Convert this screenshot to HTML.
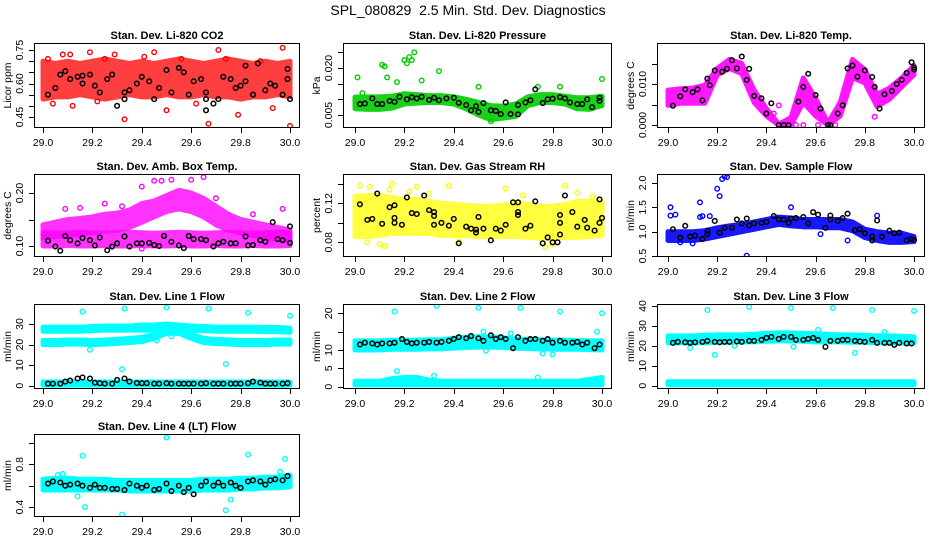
<!DOCTYPE html>
<html><head><meta charset="utf-8">
<style>
html,body{margin:0;padding:0;background:#fff;}
svg{display:block;font-family:"Liberation Sans",sans-serif;}
</style></head>
<body>
<svg id="fig" width="936" height="540" viewBox="0 0 936 540" xmlns="http://www.w3.org/2000/svg">
<rect width="936" height="540" fill="#fff"/>
<text x="468" y="15" text-anchor="middle" font-size="14" style="white-space:pre">SPL_080829  2.5 Min. Std. Dev. Diagnostics</text>
</svg>
<script>
// ---------- DATA ----------
const xTicks = [29.0, 29.2, 29.4, 29.6, 29.8, 30.0];
const xTickLabels = ["29.0", "29.2", "29.4", "29.6", "29.8", "30.0"];

// CO2
const co2Lo = [0.53,0.54,0.54,0.55,0.54,0.53,0.54,0.55,0.54,0.54,0.55,0.54,0.54,0.55,0.54,0.54,0.53,0.54,0.54,0.55,0.54];
const co2Hi = [0.70,0.69,0.70,0.69,0.70,0.71,0.70,0.69,0.70,0.69,0.70,0.71,0.70,0.69,0.70,0.71,0.70,0.69,0.70,0.69,0.70];
const co2OutX = [29.08,29.11,29.19,29.29,29.41,29.45,29.33,29.50,29.67,29.71,29.79,29.97,30.0,29.93,29.04,29.12,29.22,29.02,29.25,29.56,29.62,29.74,29.88];
const co2OutY = [0.73,0.73,0.74,0.73,0.72,0.74,0.44,0.48,0.42,0.75,0.46,0.76,0.41,0.49,0.51,0.50,0.52,0.71,0.71,0.71,0.51,0.71,0.70];
const co2BlkX = [29.02,29.05,29.07,29.09,29.11,29.14,29.16,29.16,29.19,29.21,29.23,29.26,29.28,29.30,29.33,29.33,29.35,29.38,29.40,29.43,29.45,29.47,29.50,29.52,29.55,29.57,29.59,29.61,29.64,29.66,29.66,29.66,29.69,29.71,29.73,29.76,29.78,29.80,29.82,29.82,29.85,29.87,29.90,29.92,29.94,29.97,29.99,29.99,30.0];
const co2BlkY = [0.55,0.58,0.64,0.655,0.62,0.63,0.635,0.60,0.64,0.59,0.56,0.62,0.64,0.50,0.56,0.53,0.57,0.60,0.63,0.61,0.53,0.58,0.66,0.56,0.67,0.65,0.55,0.61,0.62,0.56,0.48,0.53,0.51,0.53,0.63,0.62,0.58,0.59,0.68,0.61,0.55,0.69,0.57,0.60,0.59,0.55,0.62,0.665,0.53];

// Pressure
const presHi = [.0107,.0108,.0108,.0110,.0118,.0115,.0112,.0112,.0108,.0100,.0090,.0080,.0078,.0085,.0108,.0115,.0115,.0110,.0105,.0105,.0110];
const presLo = [.0070,.0068,.0068,.0072,.0085,.0088,.0090,.0090,.0085,.0070,.0050,.0035,.0040,.0045,.0080,.0090,.0090,.0085,.0070,.0068,.0080];
const presOutX = [29.01,29.11,29.12,29.13,29.20,29.21,29.22,29.23,29.24,29.27,29.17,29.34,29.50,29.74,29.83,30.0,29.03,29.55];
const presOutY = [0.017,0.021,0.0205,0.017,0.0225,0.0215,0.0235,0.0225,0.025,0.016,0.0155,0.019,0.014,0.014,0.014,0.0165,0.012,0.003];
const presBlkX = [29.02,29.04,29.07,29.09,29.11,29.14,29.16,29.18,29.21,29.23,29.25,29.27,29.30,29.32,29.34,29.37,29.40,29.42,29.45,29.47,29.49,29.50,29.52,29.55,29.57,29.59,29.61,29.63,29.66,29.66,29.69,29.71,29.73,29.76,29.78,29.80,29.83,29.85,29.87,29.90,29.92,29.94,29.96,29.99,29.99];
const presBlkY = [.0085,.0087,.0103,.0085,.0085,.0095,.0092,.0108,.0100,.0107,.0103,.0108,.0098,.0105,.0097,.0103,.0105,.0089,.0082,.0065,.0078,.0060,.0088,.0065,.0063,.0053,.0090,.0053,.0082,.0052,.0090,.0097,.0132,.0088,.0100,.0102,.0107,.0103,.0090,.0085,.0085,.0100,.0075,.0105,.0095];

// Li-820 Temp
const tmpHi = [.0085,.0088,.0090,.0097,.0138,.0160,.0150,.0085,.0040,.0002,.0018,.0115,.0065,.0005,.0055,.0160,.0135,.0075,.0090,.0115,.0145];
const tmpLo = [.0048,.0053,.0053,.0053,.0122,.0138,.0125,.0055,.0022,.0000,.0000,.0055,.0022,.0000,.0022,.0115,.0103,.0045,.0063,.0093,.0123];
const tmpOutX = [29.43,29.45,29.48,29.52,29.55,29.61,29.65,29.68,29.84];
const tmpOutY = [0.0028,0.0048,0.0000,0.0000,0.0000,0.0000,0.0000,0.0000,0.0020];
const tmpBlkX = [29.02,29.05,29.07,29.10,29.12,29.14,29.16,29.17,29.19,29.22,29.24,29.26,29.28,29.30,29.32,29.33,29.35,29.38,29.40,29.42,29.45,29.47,29.49,29.53,29.55,29.57,29.60,29.62,29.65,29.66,29.69,29.71,29.73,29.75,29.77,29.80,29.83,29.84,29.86,29.88,29.91,29.93,29.95,29.97,29.99,30.0,30.0];
const tmpBlkY = [.0047,.0070,.0087,.0080,.0087,.0060,.0113,.0097,.0133,.0130,.0137,.0158,.0138,.0167,.0110,.0137,.0071,.0065,.0028,.0053,0,0,0,.0057,.0093,.0125,.0073,.0040,0,0,.0028,.0048,.0138,.0145,.0118,.0133,.0117,.0093,.0040,.0075,.0083,.0100,.0110,.0127,.0153,.0140,.0135];

// Amb box temp
const ambLowLo = [.100,.100,.101,.100,.100,.101,.100,.100,.101,.100,.100,.101,.100,.100,.101,.100,.100,.101,.100,.100,.101];
const ambLowHi = [.125,.124,.125,.126,.125,.124,.125,.126,.125,.124,.125,.126,.125,.124,.125,.126,.125,.124,.125,.126,.125];
const ambUpLo = [.115,.118,.120,.122,.125,.128,.130,.135,.145,.155,.165,.170,.165,.155,.140,.130,.125,.120,.115,.112,.110];
const ambUpHi = [.140,.145,.150,.152,.155,.160,.162,.168,.180,.185,.195,.205,.200,.190,.175,.160,.150,.145,.140,.135,.130];
const ambOutX = [29.09,29.15,29.25,29.40,29.45,29.48,29.52,29.60,29.65,29.40,29.32,29.70,29.85,29.97];
const ambOutY = [.170,.172,.180,.212,.223,.223,.225,.225,.230,.095,.175,.190,.160,.170];
const ambBlkX = [29.02,29.05,29.07,29.09,29.11,29.14,29.16,29.19,29.21,29.23,29.26,29.28,29.30,29.33,29.35,29.38,29.40,29.43,29.45,29.47,29.49,29.52,29.55,29.57,29.59,29.61,29.64,29.66,29.69,29.71,29.73,29.76,29.78,29.82,29.83,29.85,29.88,29.90,29.93,29.95,29.97,30.0,30.0];
const ambBlkY = [.110,.099,.091,.119,.111,.105,.115,.111,.101,.116,.092,.099,.105,.118,.099,.105,.105,.106,.102,.100,.119,.108,.101,.096,.119,.113,.113,.111,.099,.105,.108,.105,.105,.118,.101,.102,.111,.108,.145,.113,.111,.137,.106];

// RH
const rhLo = [.086,.086,.087,.089,.089,.089,.089,.087,.087,.087,.086,.086,.086,.086,.085,.084,.084,.085,.085,.086,.087];
const rhHi = [.127,.128,.128,.126,.124,.124,.122,.120,.119,.118,.117,.117,.118,.120,.119,.117,.117,.119,.122,.122,.122];
const rhOutX = [29.02,29.06,29.14,29.15,29.22,29.25,29.38,29.61,29.85,29.90,29.77,29.80,29.05,29.10,29.12,29.55,29.42,29.30,29.68,29.96];
const rhOutY = [.138,.137,.134,.140,.132,.137,.138,.135,.138,.131,.075,.078,.080,.078,.076,.082,.081,.130,.128,.127];
const rhBlkX = [29.02,29.05,29.07,29.09,29.11,29.14,29.16,29.16,29.16,29.19,29.21,29.23,29.25,29.28,29.30,29.32,29.32,29.32,29.35,29.38,29.40,29.42,29.45,29.47,29.49,29.49,29.50,29.52,29.55,29.57,29.59,29.61,29.64,29.66,29.66,29.66,29.69,29.71,29.73,29.76,29.78,29.80,29.82,29.83,29.83,29.83,29.85,29.88,29.90,29.93,29.94,29.97,29.99,30.0,29.99];
const rhBlkY = [.119,.103,.104,.130,.099,.116,.118,.105,.100,.098,.126,.110,.109,.128,.113,.111,.107,.098,.100,.097,.104,.079,.096,.094,.093,.090,.106,.094,.082,.094,.092,.098,.121,.121,.108,.111,.094,.097,.122,.079,.085,.080,.080,.088,.100,.108,.128,.111,.096,.103,.095,.092,.124,.105,.100];

// Sample flow
const sfLo = [.82,.82,.82,.85,.90,.95,1.00,1.05,1.10,1.15,1.12,1.10,1.10,1.08,1.08,1.02,.88,.82,.78,.78,.80];
const sfHi = [1.00,1.00,1.00,1.02,1.08,1.12,1.15,1.20,1.25,1.30,1.28,1.25,1.25,1.25,1.25,1.20,1.05,1.00,.97,.97,.90];
const sfOutX = [29.01,29.01,29.03,29.13,29.13,29.14,29.20,29.21,29.22,29.23,29.24,29.17,29.32,29.50,29.73,29.85,29.62,29.05,29.10];
const sfOutY = [1.33,1.50,1.35,1.30,1.60,1.32,1.88,1.73,2.08,2.13,2.12,1.32,0.51,1.50,0.82,1.33,0.95,0.78,0.76];
const sfBlkX = [29.02,29.05,29.07,29.09,29.11,29.14,29.16,29.16,29.19,29.21,29.23,29.26,29.28,29.30,29.32,29.33,29.35,29.38,29.40,29.43,29.45,29.47,29.49,29.50,29.52,29.55,29.57,29.59,29.61,29.64,29.66,29.66,29.69,29.71,29.73,29.76,29.78,29.80,29.83,29.83,29.85,29.87,29.90,29.92,29.94,29.97,29.99,30.0];
const sfBlkY = [1.05,.88,1.12,.90,.92,.85,1.02,.95,1.22,.98,1.08,1.08,1.25,1.17,1.27,1.13,1.17,1.18,1.20,1.32,1.25,1.25,1.18,1.27,1.28,1.30,1.17,1.40,1.35,1.08,1.33,1.25,1.22,1.28,1.37,1.03,1.05,.97,.82,.90,1.23,.90,1.02,.97,.98,.82,.85,.83];

// Line flows
const lineBlkX = [29.02,29.04,29.07,29.09,29.11,29.14,29.16,29.19,29.21,29.23,29.25,29.28,29.30,29.33,29.35,29.38,29.40,29.42,29.45,29.47,29.50,29.52,29.55,29.57,29.59,29.61,29.64,29.66,29.69,29.71,29.73,29.76,29.78,29.80,29.83,29.85,29.88,29.90,29.92,29.94,29.97,29.99];

const l1UpLo = [26.5,26.5,26.5,26.5,26.8,27,27,27,27,27,27.5,27,26.8,26.8,26.5,26.5,26.5,26.5,26.3,26.3,26.0];
const l1UpHi = [28.5,28.5,28.5,28.5,28.8,29,29,29,29.5,29.5,30,29.5,29,28.8,28.5,28.5,28.5,28.5,28.3,28.3,28.0];
const l1MidLo = [20.0,20.0,20.2,20.2,20.0,20.2,20.5,21,21.5,23,25.5,25.5,23,21,20.5,20.3,20,20,20,20.2,20.2];
const l1MidHi = [22.0,22.0,22.2,22.2,22.0,22.2,22.5,23,23.5,25,28,28,25,23,22.5,22.3,22,22,22,22.2,22.2];
const l1BotLo = [0.3,0.3,0.3,0.3,0.3,0.3,0.3,0.3,0.3,0.3,0.3,0.3,0.3,0.3,0.3,0.3,0.3,0.3,0.3,0.3,0.3];
const l1BotHi = [1.8,1.8,1.8,1.8,1.8,1.8,1.8,1.8,1.8,1.8,1.8,1.8,1.8,1.8,1.8,1.8,1.8,1.8,1.8,1.8,1.8];
const l1OutX = [29.16,29.33,29.50,29.67,29.83,30.0,29.32,29.74,29.52,29.19,29.46];
const l1OutY = [36,37.5,38,37.5,35.5,34,8,10.5,24,17.5,22];
const l1BlkY = [1,1,1,2,2.5,3.5,4,3.5,1.5,1.2,1,1,2.8,3.5,2,1.3,1.2,1.2,1,1,1.2,1,1,1,1,1,1,1.2,1,1,1,1,1,1,1.2,2,1.5,1,1,1,1,1.2];

const l2UpLo = [10,10,10,10.2,10.2,10.2,10.3,10.3,10.5,10.7,10.8,10.8,10.7,10.5,10.4,10.3,10.2,10.2,10.2,10.1,10];
const l2UpHi = [12.5,12.5,12.5,12.7,12.7,12.7,12.8,12.8,13.2,13.5,13.6,13.6,13.3,13.0,12.9,12.8,12.7,12.7,12.6,12.5,12.5];
const l2BotLo = [0.5,0.5,0.5,0.5,0.5,0.5,0.5,0.5,0.5,0.5,0.5,0.5,0.5,0.5,0.5,0.5,0.5,0.5,0.5,0.5,0.5];
const l2BotHi = [1.5,1.5,1.5,2.2,2.5,2.5,1.8,1.5,1.5,1.5,1.5,1.5,1.5,1.5,1.5,1.5,1.5,1.5,1.5,2.0,2.5];
const l2OutX = [29.16,29.33,29.50,29.67,29.83,30.0,29.17,29.32,29.74,29.53,29.76,29.80,29.98,29.52,29.63];
const l2OutY = [20.5,22,21.5,21.5,20.5,20,4.2,3.0,2.5,9.8,9,8.8,15,15,14.5];
const l2BlkY = [11.5,12,11.8,11.5,11.8,11.8,12,13,12.2,11.8,12,12,12.2,12,12.2,12.5,13,13.5,13.2,13.8,13.2,12.5,14,13,13.5,13,10.5,13.5,12.5,13,13,12.5,13,12,12.5,12,12,12.2,11.5,12,10.5,11.5];

const l3UpLo = [21.5,21.5,21.5,21.5,21.8,21.8,22,22,22.3,22.5,22.5,22.3,22,22,22,21.8,21.8,21.5,21.5,21.5,21.5];
const l3UpHi = [25,25,25,25.3,25.5,25.5,25.5,25.8,26.3,26.5,26.5,26.3,26,25.8,25.5,25.5,25.3,25,25,24.8,24.5];
const l3BotLo = [0.5,0.5,0.5,0.5,0.5,0.5,0.5,0.5,0.5,0.5,0.5,0.5,0.5,0.5,0.5,0.5,0.5,0.5,0.5,0.5,0.5];
const l3BotHi = [2,2,2,2,2,2,2,2,2,2,2,2,2,2,2,2,2,2,2,2,2];
const l3OutX = [29.16,29.33,29.50,29.67,29.83,30.0,29.19,29.76,29.09,29.27,29.51,29.61,29.88];
const l3OutY = [38,39.5,39,39,38,37.5,15.5,16.5,19,20,19.5,28,27];
const l3BlkY = [21.5,22,21.8,21.5,21.8,22,22.5,22,21.8,22,22,22.2,22,22.5,22.5,23,24,24.5,23.5,24.5,24.5,23,23,23.5,24,23,19.5,22.5,22.5,23,23,22.5,22.2,22,23,21.5,21.5,21.5,20.5,21.5,21.2,21.2];

const l4Lo = [.56,.56,.56,.56,.56,.56,.56,.55,.55,.55,.55,.55,.55,.56,.56,.56,.57,.57,.58,.58,.59];
const l4Hi = [.66,.67,.67,.66,.66,.66,.65,.65,.65,.65,.65,.65,.65,.66,.66,.66,.67,.67,.68,.68,.70];
const l4OutX = [29.16,29.50,29.83,29.98,29.17,29.32,29.74,29.76,29.14,29.96,29.06,29.08];
const l4OutY = [.88,1.05,.89,.85,.40,.33,.37,.47,.50,.73,.70,.71];
const l4BlkY = [.62,.64,.63,.60,.61,.62,.60,.58,.61,.58,.58,.57,.57,.56,.62,.60,.58,.60,.56,.57,.62,.55,.60,.54,.58,.52,.60,.64,.60,.63,.60,.63,.60,.58,.64,.65,.64,.61,.65,.66,.65,.69];

// ---------- LAYOUT ----------
const cols = [{l:34,r:300,x0:43,x1:290},{l:343,r:612,x0:355,x1:602},{l:657,r:925,x0:668,x1:914}];
const rows = [{t:43,b:128},{t:174,b:257},{t:304,b:389},{t:434,b:517}];

const panels = [
 {id:'co2',c:0,r:0,title:'Stan. Dev. Li-820 CO2',ylab:'Licor ppm',color:'#ff0000',op:0.75,
  yA:[0.75,50],yB:[0.45,117],ticks:[0.45,0.50,0.55,0.60,0.65,0.70,0.75],tl:['0.45','','','0.60','','','0.75'],
  bands:[[co2Lo,co2Hi]],outX:co2OutX,outY:co2OutY,bx:co2BlkX,by:co2BlkY},
 {id:'pressure',c:1,r:0,title:'Stan. Dev. Li-820 Pressure',ylab:'kPa',color:'#00cd00',op:0.9,
  yA:[0.020,68],yB:[0.005,115],ticks:[0.005,0.010,0.015,0.020,0.025],tl:['0.005','','','0.020',''],
  bands:[[presLo,presHi]],outX:presOutX,outY:presOutY,bx:presBlkX,by:presBlkY},
 {id:'li820-temp',c:2,r:0,title:'Stan. Dev. Li-820 Temp.',ylab:'degrees C',color:'#ff00ff',op:0.9,
  yA:[0.010,84],yB:[0.000,125],ticks:[0,0.005,0.010,0.015],tl:['0.000','','0.010',''],
  bands:[[tmpLo,tmpHi]],outX:tmpOutX,outY:tmpOutY,bx:tmpBlkX,by:tmpBlkY},
 {id:'amb-box-temp',c:0,r:1,title:'Stan. Dev. Amb. Box Temp.',ylab:'degrees C',color:'#ff00ff',op:0.8,
  yA:[0.20,193],yB:[0.10,246],ticks:[0.10,0.15,0.20],tl:['0.10','','0.20'],
  bands:[[ambLowLo,ambLowHi],[ambUpLo,ambUpHi]],outX:ambOutX,outY:ambOutY,bx:ambBlkX,by:ambBlkY},
 {id:'gas-stream-rh',c:1,r:1,title:'Stan. Dev. Gas Stream RH',ylab:'percent',color:'#ffff00',op:0.75,
  yA:[0.12,203.3],yB:[0.08,242.3],ticks:[0.08,0.10,0.12,0.14],tl:['0.08','','0.12',''],
  bands:[[rhLo,rhHi]],outX:rhOutX,outY:rhOutY,bx:rhBlkX,by:rhBlkY},
 {id:'sample-flow',c:2,r:1,title:'Stan. Dev. Sample Flow',ylab:'ml/min',color:'#0000ff',op:0.9,
  yA:[1.5,207.3],yB:[1.0,231.7],ticks:[0.5,1.0,1.5,2.0],tl:['0.5','1.0','1.5','2.0'],
  bands:[[sfLo,sfHi]],outX:sfOutX,outY:sfOutY,bx:sfBlkX,by:sfBlkY},
 {id:'line1-flow',c:0,r:2,title:'Stan. Dev. Line 1 Flow',ylab:'ml/min',color:'#00ffff',op:1,
  yA:[30,324],yB:[0,385.7],ticks:[0,10,20,30],tl:['0','10','20','30'],
  bands:[[l1UpLo,l1UpHi],[l1MidLo,l1MidHi],[l1BotLo,l1BotHi]],outX:l1OutX,outY:l1OutY,bx:lineBlkX,by:l1BlkY},
 {id:'line2-flow',c:1,r:2,title:'Stan. Dev. Line 2 Flow',ylab:'ml/min',color:'#00ffff',op:1,
  yA:[10,350],yB:[0,386.7],ticks:[0,5,10,15,20],tl:['0','5','10','','20'],
  bands:[[l2UpLo,l2UpHi],[l2BotLo,l2BotHi]],outX:l2OutX,outY:l2OutY,bx:lineBlkX,by:l2BlkY},
 {id:'line3-flow',c:2,r:2,title:'Stan. Dev. Line 3 Flow',ylab:'ml/min',color:'#00ffff',op:1,
  yA:[40,306],yB:[0,385.7],ticks:[0,10,20,30,40],tl:['0','10','20','30','40'],
  bands:[[l3UpLo,l3UpHi],[l3BotLo,l3BotHi]],outX:l3OutX,outY:l3OutY,bx:lineBlkX,by:l3BlkY},
 {id:'line4-flow',c:0,r:3,title:'Stan. Dev. Line 4 (LT) Flow',ylab:'ml/min',color:'#00ffff',op:1,
  yA:[0.8,464.3],yB:[0.6,485.7],ticks:[0.4,0.6,0.8,1.0],tl:['0.4','','0.8',''],
  bands:[[l4Lo,l4Hi]],outX:l4OutX,outY:l4OutY,bx:lineBlkX,by:l4BlkY}
];

const NS = 'http://www.w3.org/2000/svg';
const svg = document.getElementById('fig');
function mk(tag, attrs, parent){
  const e = document.createElementNS(NS, tag);
  for (const k in attrs) e.setAttribute(k, attrs[k]);
  parent.appendChild(e);
  return e;
}

panels.forEach(p => {
  const col = cols[p.c], row = rows[p.r];
  const xs = v => col.x0 + (v - 29.0) * (col.x1 - col.x0) / 1.0;
  const ys = v => p.yB[1] + (v - p.yB[0]) * (p.yA[1] - p.yB[1]) / (p.yA[0] - p.yB[0]);
  const g = mk('g', {}, svg);
  
  

  const clipId = 'clip-' + p.id;
  const cp = mk('clipPath', {id: clipId}, g);
  mk('rect', {x: col.l, y: row.t, width: col.r - col.l, height: row.b - row.t}, cp);
  const plot = mk('g', {'clip-path': 'url(#' + clipId + ')'}, g);

  p.bands.forEach((b, bi) => {
    const lo = b[0], hi = b[1], n = lo.length;
    const pts = [];
    for (let i = 0; i < n; i++) pts.push(xs(29 + i / (n - 1)) + ',' + ys(hi[i]));
    for (let i = n - 1; i >= 0; i--) pts.push(xs(29 + i / (n - 1)) + ',' + ys(lo[i]));
    const poly = mk('polygon', {points: pts.join(' '), fill: p.color, stroke: p.color, 'stroke-width': 5, 'stroke-linejoin': 'round', opacity: p.op}, plot);
    
    
  });
  p.outX.forEach((x, i) => {
    const c = mk('circle', {cx: xs(x), cy: ys(p.outY[i]), r: 2.3, fill: 'none', stroke: p.color, 'stroke-width': 1.4}, plot);
    
    
  });
  p.bx.forEach((x, i) => {
    const c = mk('circle', {cx: xs(x), cy: ys(p.by[i]), r: 2.3, fill: 'none', stroke: '#000', 'stroke-width': 1.5}, plot);
    
    
  });

  const box = mk('rect', {x: col.l + 0.5, y: row.t + 0.5, width: col.r - col.l - 1, height: row.b - row.t - 1, fill: 'none', stroke: '#000', 'stroke-width': 1}, g);
  
  

  const t = mk('text', {x: (col.l + col.r) / 2, y: row.t - 4, 'text-anchor': 'middle', 'font-size': 11, 'font-weight': 'bold'}, g);
  t.textContent = p.title;
  
  

  const xa = mk('g', {}, g);
  
  
  xTicks.forEach((v, i) => {
    const x = Math.round(xs(v)) + 0.5;
    mk('line', {x1: x, x2: x, y1: row.b, y2: row.b + 5, stroke: '#000'}, xa);
    const tx = mk('text', {x: xs(v), y: row.b + 18, 'text-anchor': 'middle', 'font-size': 10.5}, xa);
    tx.textContent = xTickLabels[i];
    
    
  });
  const ya = mk('g', {}, g);
  
  
  p.ticks.forEach((v, i) => {
    const y = Math.round(ys(v)) + 0.5;
    mk('line', {x1: col.l - 5, x2: col.l, y1: y, y2: y, stroke: '#000'}, ya);
    if (p.tl[i]) {
      const lx = col.l - 11, ly = ys(v);
      const tx = mk('text', {x: lx, y: ly, 'text-anchor': 'middle', 'font-size': 10.5, transform: 'rotate(-90 ' + lx + ' ' + ly + ')'}, ya);
      tx.textContent = p.tl[i];
      
      
    }
  });
  const yl = mk('text', {x: col.l - 23, y: (row.t + row.b) / 2, 'text-anchor': 'middle', 'font-size': 10.5, transform: 'rotate(-90 ' + (col.l - 23) + ' ' + ((row.t + row.b) / 2) + ')'}, g);
  yl.textContent = p.ylab;
  
  
});
</script>
</body></html>
